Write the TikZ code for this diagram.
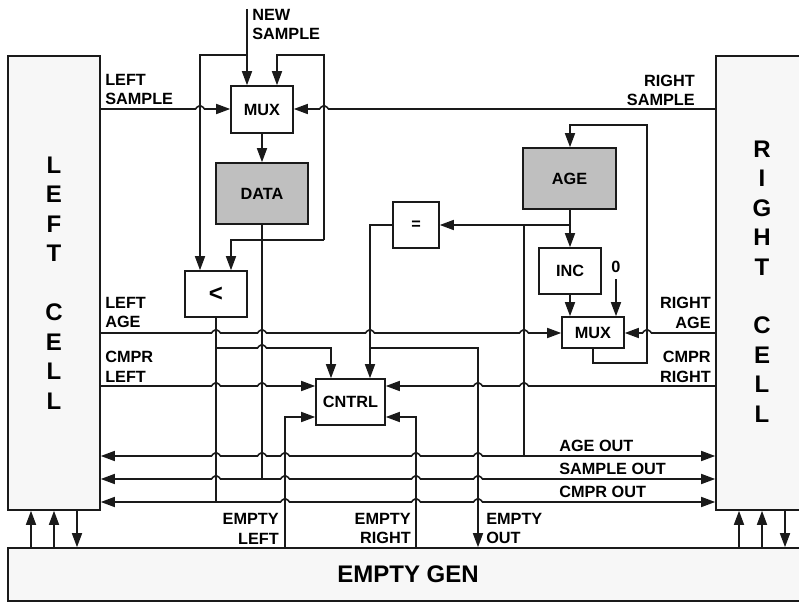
\documentclass[tikz,border=0pt]{standalone}
\usepackage{fontspec}
\setmainfont{Liberation Sans}
\usetikzlibrary{arrows.meta}
\definecolor{ink}{HTML}{1A1A1A}
\definecolor{cellfill}{HTML}{F7F7F7}
\definecolor{regfill}{HTML}{BFBFBF}
\def\J#1#2{-- (#1-4.5,#2) .. controls (#1-3.5,#2) and (#1-3,#2-3.5) .. (#1,#2-3.5) .. controls (#1+3,#2-3.5) and (#1+3.5,#2) .. (#1+4.5,#2)}
\tikzset{
  x=0.75pt,y=-0.75pt,
  wh/.style 2 args={minimum width=#1*0.75pt,minimum height=#2*0.75pt,inner sep=0pt},
  txt/.style={font=\bfseries\fontsize{12.2}{14.4}\selectfont,text=black},
  block/.style={draw=ink,line width=1.2pt,fill=white,txt},
  reg/.style={block,fill=regfill},
  cell/.style={draw=ink,line width=1.2pt,fill=cellfill,font=\bfseries\fontsize{18}{22.1}\selectfont,align=center},
  wire/.style={draw=ink,line width=1.2pt,>={Triangle[length=10.5pt,width=7.5pt]}},
  lab/.style={txt,inner sep=0pt,align=left,anchor=west,yshift=-0.6pt},
  labr/.style={txt,inner sep=0pt,align=right,anchor=east,yshift=-0.6pt},
}
\begin{document}
\begin{tikzpicture}
\useasboundingbox (0,0) rectangle (799,602);
% blocks
\node[cell,wh={92}{454}] (lcell) at (54,283) {L\\E\\F\\T\\[22.1pt]C\\E\\L\\L};
\node[cell,wh={100}{454}] (rcell) at (766,283) {};
\node[cell,inner sep=0pt,draw=none,fill=none] (rtext) at (762,281.5) {R\\I\\G\\H\\T\\[22.1pt]C\\E\\L\\L};
\node[cell,wh={800}{53}] (gen) at (408,574.5) {EMPTY GEN};
\node[block,wh={62}{47}] (mux) at (262,109.5) {MUX};
\node[reg,wh={92}{61}] (data) at (262,193.5) {DATA};
\node[block,wh={62}{46},font=\bfseries\fontsize{18}{20}\selectfont] (lt) at (216,294) {<};
\node[block,wh={69}{46}] (cntrl) at (350.5,402) {CNTRL};
\node[block,wh={46}{46}] (eq) at (416,225) {=};
\node[reg,wh={93}{61}] (age) at (569.5,178.5) {AGE};
\node[block,wh={62}{46}] (inc) at (570,271) {INC};
\node[block,wh={62}{31}] (amux) at (593,332.5) {MUX};
% free ends
\coordinate (newin) at (247,9);
\coordinate (zero) at (616,279);
% top mux
\draw[wire,->] (newin) -- (247,0 |- mux.north);
\draw[wire,->] (247,55) -- (200,55) -- (200,0 |- lt.north);
\draw[wire,->] (324,240) -- (324,55) -- (277,55) -- (277,0 |- mux.north);
\draw[wire,->] (324,240) -- (231,240) -- (231,0 |- lt.north);
\draw[wire,->] (lcell.east |- 0,109) \J{200}{109} -- (mux.west |- 0,109);
\draw[wire,<-] (mux.east |- 0,109) \J{324}{109} -- (rcell.west |- 0,109);
\draw[wire,->] (mux.south) -- (data.north);
% data / compare outputs
\draw[wire] (data.south) -- (262,479);
\draw[wire] (lt.south) -- (216,502);
% age loop
\draw[wire,->] (570,0 |- age.south) -- (570,0 |- inc.north);
\draw[wire,->] (570,225) -- (eq.east);
\draw[wire] (524,225) -- (524,456);
\draw[wire,->] (inc.south) -- (inc.south |- amux.north);
\draw[wire,->] (zero) -- (zero |- amux.north);
\draw[wire,->] (amux.south) -- (593,363) -- (647,363) -- (647,125) -- (570,125) -- (570,0 |- age.north);
% age lines
\draw[wire,->] (lcell.east |- 0,333) \J{216}{333} \J{262}{333} \J{370}{333} \J{524}{333} -- (amux.west |- 0,333);
\draw[wire,<-] (amux.east |- 0,333) \J{647}{333} -- (rcell.west |- 0,333);
% into CNTRL
\draw[wire,->] (216,348) \J{262}{348} -- (331,348) -- (331,0 |- cntrl.north);
\draw[wire,->] (eq.west) -- (370,225) -- (370,0 |- cntrl.north);
\draw[wire,->] (370,348) -- (478,348) -- (478,0 |- gen.north);
\draw[wire,->] (lcell.east |- 0,386) \J{216}{386} \J{262}{386} -- (cntrl.west |- 0,386);
\draw[wire,<-] (cntrl.east |- 0,386) \J{478}{386} \J{524}{386} -- (rcell.west |- 0,386);
\draw[wire,->] (285,0 |- gen.north) -- (285,417) -- (cntrl.west |- 0,417);
\draw[wire,->] (416,0 |- gen.north) -- (416,417) -- (cntrl.east |- 0,417);
% buses
\draw[wire,<->] (lcell.east |- 0,456) \J{216}{456} \J{262}{456} \J{285}{456} \J{416}{456} \J{478}{456} -- (rcell.west |- 0,456);
\draw[wire,<->] (lcell.east |- 0,479) \J{216}{479} \J{285}{479} \J{416}{479} \J{478}{479} -- (rcell.west |- 0,479);
\draw[wire,<->] (lcell.east |- 0,502) \J{285}{502} \J{416}{502} \J{478}{502} -- (rcell.west |- 0,502);
% cell / gen
\draw[wire,->] (31,0 |- gen.north) -- (31,0 |- lcell.south);
\draw[wire,->] (54,0 |- gen.north) -- (54,0 |- lcell.south);
\draw[wire,->] (77,0 |- lcell.south) -- (77,0 |- gen.north);
\draw[wire,->] (739,0 |- gen.north) -- (739,0 |- rcell.south);
\draw[wire,->] (762,0 |- gen.north) -- (762,0 |- rcell.south);
\draw[wire,->] (785,0 |- rcell.south) -- (785,0 |- gen.north);
% labels
\node[lab] (t1) at (252,23.5) {NEW\\SAMPLE};
\node[lab] (t2) at (105,88.5) {LEFT\\SAMPLE};
\node[labr] (t3) at (695,89.5) {RIGHT\\SAMPLE};
\node[lab] (t4) at (105,312) {LEFT\\AGE};
\node[lab] (t5) at (105,366) {CMPR\\LEFT};
\node[labr] (t6) at (711,312) {RIGHT\\AGE};
\node[labr] (t7) at (711,366) {CMPR\\RIGHT};
\node[lab] (t8) at (559,445) {AGE OUT};
\node[lab] (t9) at (559,468) {SAMPLE OUT};
\node[lab] (t10) at (559,491) {CMPR OUT};
\node[labr] (t11) at (279,528) {EMPTY\\LEFT};
\node[labr] (t12) at (411,528) {EMPTY\\RIGHT};
\node[lab] (t13) at (486,528) {EMPTY\\OUT};
\node[txt,inner sep=0pt] (t14) at (616,267) {0};
\end{tikzpicture}
\end{document}
